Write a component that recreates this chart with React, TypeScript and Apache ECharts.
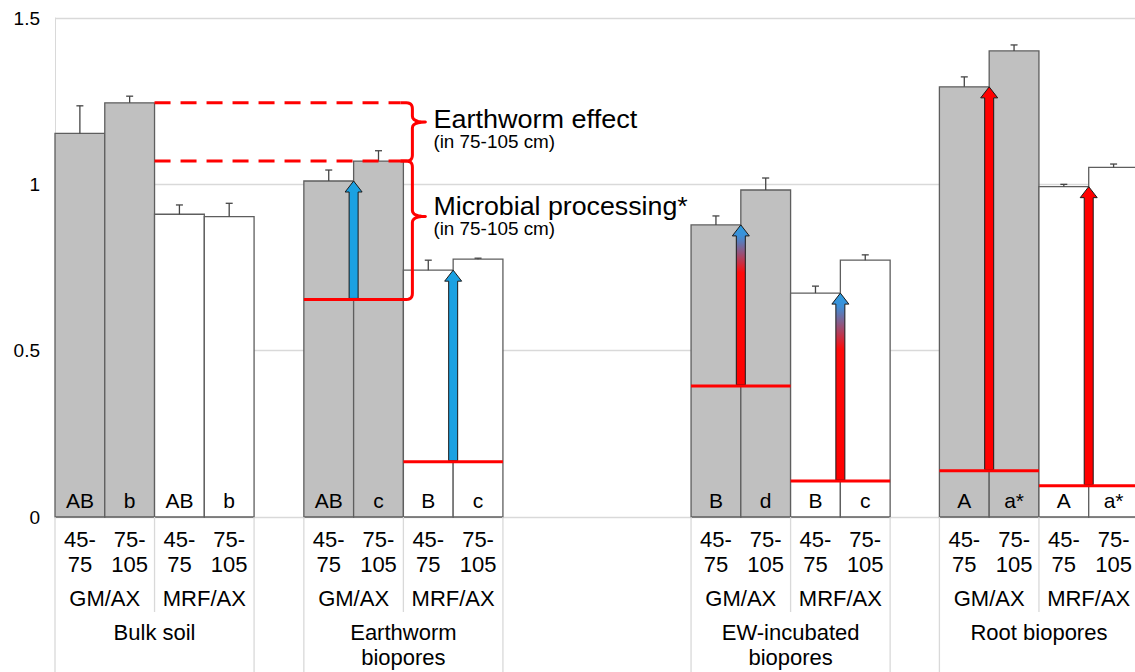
import React, { useEffect, useRef } from 'react';
import * as echarts from 'echarts';

// ---------- data ----------
const groupNames = ['Bulk soil', 'Earthworm\nbiopores', 'EW-incubated\nbiopores', 'Root biopores'];
const systemLabels = ['GM/AX', 'MRF/AX'];
const depthLabels = ['45-\n75', '75-\n105'];
const yTicks = [0, 0.5, 1, 1.5];

// order inside each group: GM/AX 45-75, GM/AX 75-105, MRF/AX 45-75, MRF/AX 75-105
const bulkSoil = [1.153, 1.245, 0.91, 0.903];
const earthwormBiopores = [1.01, 1.07, 0.742, 0.775];
const ewIncubatedBiopores = [0.878, 0.983, 0.673, 0.772];
const rootBiopores = [1.293, 1.401, 0.993, 1.051];

const bulkSoilErr = [0.083, 0.02, 0.028, 0.04];
const earthwormErr = [0.033, 0.031, 0.03, 0.003];
const ewIncubatedErr = [0.027, 0.036, 0.021, 0.016];
const rootErr = [0.03, 0.018, 0.007, 0.01];

const bulkSoilLetters = ['AB', 'b', 'AB', 'b'];
const earthwormLetters = ['AB', 'c', 'B', 'c'];
const ewIncubatedLetters = ['B', 'd', 'B', 'c'];
const rootLetters = ['A', 'a*', 'A', 'a*'];

// red baselines (microbial processing start), GM/AX and MRF/AX; none for bulk soil
const gmBaseline = [null, 0.654, 0.394, 0.139];
const mrfBaseline = [null, 0.166, 0.108, 0.094];

const annotationTitles = ['Earthworm effect', 'Microbial processing*'];
const annotationSub = '(in 75-105 cm)';

// ---------- layout ----------
const GROUP_START = [0, 5, 12.78, 17.77];
const X_MAX = 21.7;
const ARROW_KIND = ['none', 'blue', 'gradient', 'red'];
const FONT = '"Liberation Sans", Arial, Helvetica, sans-serif';
const RED = '#ff0000';
const GRID_GRAY = '#d9d9d9';

const means = [bulkSoil, earthwormBiopores, ewIncubatedBiopores, rootBiopores];
const errs = [bulkSoilErr, earthwormErr, ewIncubatedErr, rootErr];
const letters = [bulkSoilLetters, earthwormLetters, ewIncubatedLetters, rootLetters];

type BarMeta = { g: number; i: number };
const barMeta: BarMeta[] = [];
const barData: number[][] = [];
means.forEach((arr, g) => {
  arr.forEach((v, i) => {
    barMeta.push({ g, i });
    barData.push([GROUP_START[g] + i + 0.5, v]);
  });
});

type PairMeta = { g: number; p: number };
const pairMeta: PairMeta[] = [];
const pairData: number[][] = [];
[gmBaseline, mrfBaseline].forEach((bl, p) => {
  bl.forEach((b, g) => {
    if (b == null) return;
    pairMeta.push({ g, p });
    pairData.push([GROUP_START[g] + 2 * p, b]);
  });
});

function quad(p0: number[], c: number[], p1: number[], n = 6) {
  const pts: number[][] = [];
  for (let k = 1; k <= n; k++) {
    const t = k / n;
    const a = (1 - t) * (1 - t), b = 2 * (1 - t) * t, d = t * t;
    pts.push([a * p0[0] + b * c[0] + d * p1[0], a * p0[1] + b * c[1] + d * p1[1]]);
  }
  return pts;
}

function bracePoints(xs: number, xb: number, xt: number, yTop: number, yBot: number, tipFrac: number, r: number) {
  const yMid = yTop + (yBot - yTop) * tipFrac;
  const pts: number[][] = [[xs, yTop], [xb - r, yTop]];
  pts.push(...quad([xb - r, yTop], [xb, yTop], [xb, yTop + r]));
  pts.push([xb, yMid - r]);
  pts.push(...quad([xb, yMid - r], [xb, yMid], [xt, yMid]));
  pts.push(...quad([xt, yMid], [xb, yMid], [xb, yMid + r]));
  pts.push([xb, yBot - r]);
  pts.push(...quad([xb, yBot - r], [xb, yBot], [xb - r, yBot]));
  pts.push([xs, yBot]);
  return { pts, yMid };
}

function arrowEl(x: number, yTip: number, yTail: number, fill: any) {
  const sw = 4.5, hw = 8.5, hh = 11;
  return {
    type: 'polygon',
    shape: {
      points: [
        [x - sw, yTail], [x - sw, yTip + hh], [x - hw, yTip + hh], [x, yTip],
        [x + hw, yTip + hh], [x + sw, yTip + hh], [x + sw, yTail],
      ],
    },
    style: { fill, stroke: '#1a1a1a', lineWidth: 1 },
  };
}

function textEl(text: string, x: number, y: number, fontSize: number, align = 'center', verticalAlign = 'middle', lineHeight?: number, scaleX = 1) {
  return {
    type: 'text',
    x, y, scaleX,
    style: {
      text, fill: '#000', fontSize, fontFamily: FONT, align, verticalAlign,
      lineHeight: lineHeight || fontSize * 1.2,
    },
  };
}

function buildOption() {
  return {
    animation: false,
    backgroundColor: '#ffffff',
    grid: { left: 55, right: 0, top: 18, bottom: 155 },
    xAxis: {
      type: 'value', min: 0, max: X_MAX,
      axisLine: { show: true, lineStyle: { color: GRID_GRAY, width: 1 } },
      axisTick: { show: false }, axisLabel: { show: false }, splitLine: { show: false },
    },
    yAxis: {
      type: 'value', min: yTicks[0], max: yTicks[yTicks.length - 1], interval: yTicks[1] - yTicks[0],
      axisLine: { show: true, lineStyle: { color: GRID_GRAY, width: 1 } },
      axisTick: { show: false },
      axisLabel: { fontSize: 19, color: '#000', margin: 15, fontFamily: FONT },
      splitLine: { show: true, lineStyle: { color: GRID_GRAY, width: 1.3 } },
    },
    series: [
      // white background behind brace (hides gridline)
      {
        type: 'custom', clip: false, silent: true,
        data: [[GROUP_START[1] + 2, earthwormBiopores[1]]],
        renderItem: (params: any, api: any) => {
          const x7 = api.coord([GROUP_START[1] + 2, 0])[0];
          const yA = api.coord([0, bulkSoil[1]])[1];
          return {
            type: 'rect',
            shape: { x: x7, y: yA - 4, width: 35, height: 70 },
            style: { fill: '#ffffff' },
          };
        },
      },
      // bars
      {
        type: 'custom', clip: false, silent: true,
        data: barData,
        renderItem: (params: any, api: any) => {
          const m = barMeta[params.dataIndex];
          const xc = api.value(0), v = api.value(1);
          const p1 = api.coord([xc - 0.5, v]);
          const p2 = api.coord([xc + 0.5, 0]);
          return {
            type: 'rect',
            shape: { x: p1[0], y: p1[1], width: p2[0] - p1[0], height: p2[1] - p1[1] },
            style: { fill: m.i < 2 ? '#c0c0c0' : '#ffffff', stroke: '#5e5e5e', lineWidth: 1.3 },
          };
        },
      },
      // red baselines + arrows
      {
        type: 'custom', clip: false, silent: true,
        data: pairData,
        renderItem: (params: any, api: any) => {
          const m = pairMeta[params.dataIndex];
          const x0 = api.value(0), b = api.value(1);
          const pa = api.coord([x0, b]);
          const pb = api.coord([x0 + 2, b]);
          const target = means[m.g][2 * m.p];
          const tip = api.coord([x0 + 1, target]);
          const kind = ARROW_KIND[m.g];
          let fill: any = '#1ba1e2';
          if (kind === 'red') fill = RED;
          if (kind === 'gradient') {
            fill = new echarts.graphic.LinearGradient(0, 0, 0, 1, [
              { offset: 0, color: '#2a9de0' },
              { offset: 0.07, color: '#3d8fd8' },
              { offset: 0.3, color: '#ff0a0a' },
              { offset: 1, color: RED },
            ]);
          }
          return {
            type: 'group',
            children: [
              arrowEl(tip[0], tip[1], pa[1] - 1, fill),
              { type: 'line', shape: { x1: pa[0], y1: pa[1], x2: pb[0], y2: pb[1] }, style: { stroke: RED, lineWidth: 3 } },
            ],
          };
        },
      },
      // error bars + letters
      {
        type: 'custom', clip: false, silent: true,
        data: barData,
        renderItem: (params: any, api: any) => {
          const m = barMeta[params.dataIndex];
          const xc = api.value(0), v = api.value(1);
          const top = api.coord([xc, v]);
          const etop = api.coord([xc, v + errs[m.g][m.i]]);
          const base = api.coord([xc, 0]);
          return {
            type: 'group',
            children: [
              { type: 'line', shape: { x1: top[0], y1: top[1], x2: etop[0], y2: etop[1] }, style: { stroke: '#454545', lineWidth: 1.3 } },
              { type: 'line', shape: { x1: etop[0] - 3.5, y1: etop[1], x2: etop[0] + 3.5, y2: etop[1] }, style: { stroke: '#454545', lineWidth: 1.3 } },
              textEl(letters[m.g][m.i], base[0], base[1] - 17, 21),
            ],
          };
        },
      },
      // annotation: dashed lines, braces, texts
      {
        type: 'custom', clip: false, silent: true,
        data: [[GROUP_START[1] + 2, earthwormBiopores[1]]],
        renderItem: (params: any, api: any) => {
          const x2 = api.coord([2, 0])[0];
          const x7 = api.coord([GROUP_START[1] + 2, 0])[0];
          const yA = api.coord([0, bulkSoil[1]])[1];
          const yB = api.coord([0, earthwormBiopores[1]])[1];
          const yC = api.coord([0, gmBaseline[1] as number])[1];
          const xb = x7 + 9, xt = x7 + 22;
          const up = bracePoints(x7 - 3, xb, xt, yA, yB, 0.33, 6);
          const lo = bracePoints(x7 - 3, xb, xt, yB, yC, 0.4, 6);
          const dash = { stroke: RED, lineWidth: 3, lineDash: [16, 10] };
          const tx = xt + 8;
          return {
            type: 'group',
            children: [
              { type: 'line', shape: { x1: x2, y1: yA, x2: x7 - 3, y2: yA }, style: dash },
              { type: 'line', shape: { x1: x2, y1: yB, x2: x7 - 3, y2: yB }, style: dash },
              { type: 'polyline', shape: { points: up.pts }, style: { stroke: RED, lineWidth: 3, fill: null, lineJoin: 'round' } },
              { type: 'polyline', shape: { points: lo.pts }, style: { stroke: RED, lineWidth: 3, fill: null, lineJoin: 'round' } },
              textEl(annotationTitles[0], tx, up.yMid - 3, 26, 'left', 'middle', 23, 1.04),
              textEl(annotationSub, tx, up.yMid + 20, 18, 'left', 'middle', 17, 1.05),
              textEl(annotationTitles[1], tx, lo.yMid - 10, 26, 'left', 'middle', 23, 1.03),
              textEl(annotationSub, tx, lo.yMid + 12, 18, 'left', 'middle', 17, 1.05),
            ],
          };
        },
      },
      // category labels and separators below the axis
      {
        type: 'custom', clip: false, silent: true,
        data: GROUP_START.map((s) => [s, 0]),
        renderItem: (params: any, api: any) => {
          const g = params.dataIndex;
          const s = api.value(0);
          const y0 = api.coord([s, 0])[1];
          const children: any[] = [];
          const sep = (x: number, len: number) => {
            const px = api.coord([x, 0])[0];
            children.push({ type: 'line', shape: { x1: px, y1: y0, x2: px, y2: y0 + len }, style: { stroke: GRID_GRAY, lineWidth: 1.3 } });
          };
          sep(s, 170);
          sep(s + 4, 170);
          sep(s + 2, 95);
          for (let i = 0; i < 4; i++) {
            const cx = api.coord([s + i + 0.5, 0])[0];
            children.push(textEl(depthLabels[i % 2], cx, y0 + 10, 22, 'center', 'top', 25));
          }
          for (let p = 0; p < 2; p++) {
            const cx = api.coord([s + 2 * p + 1, 0])[0];
            children.push(textEl(systemLabels[p], cx, y0 + 81, 22));
          }
          const gx = api.coord([s + 2, 0])[0];
          children.push(textEl(groupNames[g], gx, y0 + 103, 22, 'center', 'top', 25));
          return { type: 'group', children };
        },
      },
    ],
  };
}

export default function App() {
  const ref = useRef<HTMLDivElement>(null);
  useEffect(() => {
    const chart = echarts.init(ref.current as HTMLDivElement, null, { renderer: 'svg' });
    chart.setOption(buildOption() as any);
    return () => chart.dispose();
  }, []);
  return (
    <div
      ref={ref}
      style={{ position: 'fixed', left: 0, top: 0, width: 1135, height: 672, background: '#fff' }}
    />
  );
}
